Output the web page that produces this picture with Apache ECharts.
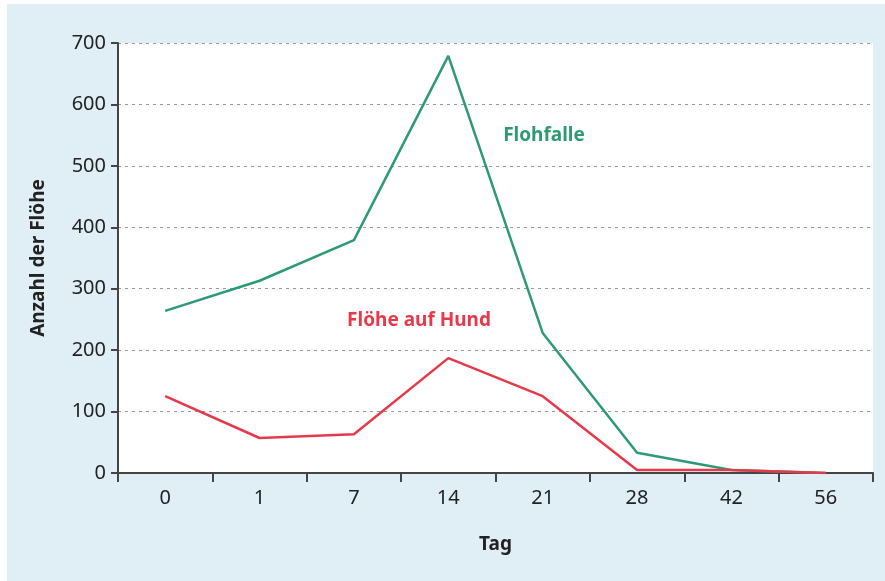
<!DOCTYPE html>
<html>
<head>
<meta charset="utf-8">
<script src="https://cdn.jsdelivr.net/npm/echarts@6/dist/echarts.min.js"></script>
<style>
html,body{margin:0;padding:0;background:#ffffff;}
#c{width:885px;height:581px;}
</style>
</head>
<body>
<div id="c"></div>
<script>
const categories = ['0', '1', '7', '14', '21', '28', '42', '56'];
const flohfalle = [264, 313, 379, 679, 228, 33, 5, 0];
const hund = [125, 57, 63, 187, 125, 5, 5, 0];
const yTicks = [0, 100, 200, 300, 400, 500, 600, 700];

const chart = echarts.init(document.getElementById('c'), null, {renderer: 'canvas'});
const font = '"Noto Sans", "Open Sans", sans-serif';
chart.setOption({
  animation: false,
  backgroundColor: '#ffffff',
  graphic: [
    {type: 'rect', z: -10, shape: {x: 7, y: 4, width: 878, height: 577}, style: {fill: '#e0eef6'}},
    {type: 'text', x: 544, y: 136, style: {text: 'Flohfalle', fill: '#2e9a74', font: 'bold 19px ' + font, textAlign: 'center', textVerticalAlign: 'middle'}},
    {type: 'text', x: 419, y: 321, style: {text: 'Flöhe auf Hund', fill: '#e8394a', font: 'bold 19px ' + font, textAlign: 'center', textVerticalAlign: 'middle'}}
  ],
  grid: {left: 118, right: 12, top: 43, bottom: 108, show: true, backgroundColor: '#ffffff', borderWidth: 0},
  xAxis: {
    type: 'category',
    data: categories,
    boundaryGap: true,
    name: 'Tag',
    nameLocation: 'middle',
    nameGap: 62,
    nameTextStyle: {fontFamily: font, fontWeight: 'bold', fontSize: 19, color: '#222'},
    axisLine: {lineStyle: {color: '#444', width: 2}},
    axisTick: {show: true, length: 9, lineStyle: {color: '#444', width: 2}},
    axisLabel: {fontFamily: font, fontSize: 20, color: '#222', margin: 15},
    splitLine: {show: false}
  },
  yAxis: {
    type: 'value',
    min: yTicks[0],
    max: yTicks[yTicks.length - 1],
    interval: 100,
    name: 'Anzahl der Flöhe',
    nameLocation: 'middle',
    nameGap: 70,
    nameRotate: 90,
    nameTextStyle: {fontFamily: font, fontWeight: 'bold', fontSize: 19, color: '#222'},
    axisLine: {show: true, lineStyle: {color: '#444', width: 2}},
    axisTick: {show: true, length: 7, lineStyle: {color: '#444', width: 2}},
    axisLabel: {fontFamily: font, fontSize: 20, color: '#222', margin: 12},
    splitLine: {show: true, lineStyle: {color: '#999', type: [3, 4], width: 1}}
  },
  series: [
    {type: 'line', data: flohfalle, symbol: 'none', lineStyle: {color: '#2e9a74', width: 2.5}, itemStyle: {color: '#2e9a74'}},
    {type: 'line', data: hund, symbol: 'none', lineStyle: {color: '#e8394a', width: 2.5}, itemStyle: {color: '#e8394a'}}
  ]
});
</script>
</body>
</html>
